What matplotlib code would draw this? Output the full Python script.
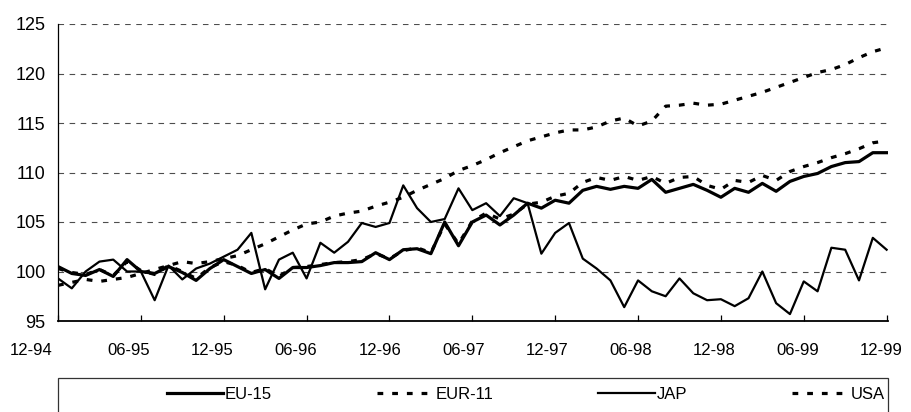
import numpy as np
import matplotlib
matplotlib.use('Agg')
import matplotlib.pyplot as plt
import matplotlib.transforms as mtransforms
from matplotlib.patches import Rectangle

plt.rcParams['font.family'] = ['Liberation Sans', 'DejaVu Sans']

# monthly index, 12-94 ... 12-99
months = np.arange(61)
tick_labels = ['12-94', '06-95', '12-95', '06-96', '12-96', '06-97',
               '12-97', '06-98', '12-98', '06-99', '12-99']

eu15 = [100.5, 99.8, 99.6, 100.2, 99.5, 101.2, 100.0, 99.8, 100.5, 99.9,
        99.1, 100.3, 101.2, 100.5, 99.8, 100.2, 99.3, 100.4, 100.4, 100.6,
        100.9, 100.9, 101.0, 101.9, 101.2, 102.2, 102.3, 101.8, 105.0, 102.6,
        105.0, 105.7, 104.7, 105.7, 106.9, 106.4, 107.2, 106.9, 108.2, 108.6,
        108.3, 108.6, 108.4, 109.3, 108.0, 108.4, 108.8, 108.2, 107.5, 108.4,
        108.0, 108.9, 108.1, 109.1, 109.6, 109.9, 110.6, 111.0, 111.1, 112.0,
        112.0]

eur11 = [100.3, 99.9, 99.7, 100.2, 99.6, 101.0, 100.1, 99.7, 100.6, 100.0,
         99.3, 100.4, 101.0, 100.6, 99.9, 100.3, 99.5, 100.4, 100.5, 100.7,
         100.9, 101.0, 101.2, 101.8, 101.3, 102.1, 102.4, 101.9, 104.8, 102.8,
         105.1, 105.9, 105.3, 105.8, 106.8, 107.0, 107.6, 107.9, 109.0, 109.5,
         109.2, 109.6, 109.2, 109.6, 108.9, 109.5, 109.6, 108.7, 108.3, 109.2,
         109.0, 109.7, 109.2, 110.1, 110.6, 111.0, 111.5, 111.9, 112.4, 113.0,
         113.2]

jap = [99.3, 98.3, 100.0, 101.0, 101.2, 100.0, 100.0, 97.1, 100.6, 99.2,
       100.3, 100.8, 101.5, 102.2, 103.9, 98.2, 101.2, 101.9, 99.3, 102.9,
       101.9, 103.0, 104.9, 104.5, 104.9, 108.7, 106.4, 105.0, 105.3, 108.4,
       106.2, 106.9, 105.6, 107.4, 106.9, 101.8, 103.9, 104.9, 101.3, 100.3,
       99.1, 96.4, 99.1, 98.0, 97.5, 99.3, 97.8, 97.1, 97.2, 96.5,
       97.3, 100.0, 96.8, 95.7, 99.0, 98.0, 102.4, 102.2, 99.1, 103.4,
       102.2]

usa = [98.6, 98.9, 99.2, 99.0, 99.2, 99.4, 99.8, 100.2, 100.6, 101.0,
       100.8, 101.0, 101.3, 101.6, 102.2, 102.8, 103.5, 104.2, 104.8, 105.0,
       105.6, 105.9, 106.1, 106.6, 107.0, 107.5, 108.2, 108.8, 109.4, 110.2,
       110.7, 111.3, 112.0, 112.6, 113.2, 113.6, 114.0, 114.3, 114.3, 114.6,
       115.2, 115.5, 114.7, 115.2, 116.7, 116.8, 117.0, 116.8, 116.9, 117.3,
       117.7, 118.1, 118.6, 119.1, 119.6, 120.1, 120.4, 120.9, 121.6, 122.2,
       122.6]

fig = plt.figure(figsize=(9.12, 4.12), dpi=100)
ax = fig.add_axes([58 / 912, 1 - 321 / 412, 830 / 912, 297 / 412])

dash = (0, (1.8, 2.8))
ax.plot(months, eu15, color='black', lw=2.3, label='EU-15', zorder=4)
ax.plot(months, eur11, color='black', lw=2.3, linestyle=dash, label='EUR-11', zorder=4)
ax.plot(months, jap, color='black', lw=1.6, label='JAP', zorder=3)
ax.plot(months, usa, color='black', lw=2.3, linestyle=dash, label='USA', zorder=3)

ax.set_xlim(0, 60.1)
ax.set_ylim(95, 125)
ax.set_yticks(range(95, 126, 5))
ax.set_xticks(range(0, 61, 6))
ax.set_xticklabels(tick_labels)

for y in range(100, 126, 5):
    ax.axhline(y, color='0.3', lw=0.8, linestyle=(0, (5, 5)), zorder=1)

for side in ['top', 'right']:
    ax.spines[side].set_visible(False)
ax.spines['left'].set_linewidth(0.9)
ax.spines['bottom'].set_linewidth(1.3)

ax.tick_params(axis='y', length=0, pad=9, labelsize=13)
ax.tick_params(axis='x', direction='in', length=4, width=0.9, pad=16, labelsize=12)

# labels sit a little left of their ticks
for k, lab in enumerate(ax.get_xticklabels()):
    dx = -0.27 if k == 0 else -0.13 + 0.008 * k
    lab.set_transform(lab.get_transform() + mtransforms.ScaledTranslation(dx, 0, fig.dpi_scale_trans))

leg = fig.legend(loc='upper left', bbox_to_anchor=(160 / 912, 1 - 380 / 412),
                 ncol=4, frameon=False, fontsize=12, handlelength=3.4,
                 handletextpad=0.1, columnspacing=6.3, borderaxespad=0)

fig.patches.append(Rectangle((58 / 912, -0.05), 830 / 912, 0.05 + (412 - 378) / 412,
                             transform=fig.transFigure, fill=False,
                             edgecolor='0.2', lw=0.9))

fig.savefig('out.png', dpi=100)
